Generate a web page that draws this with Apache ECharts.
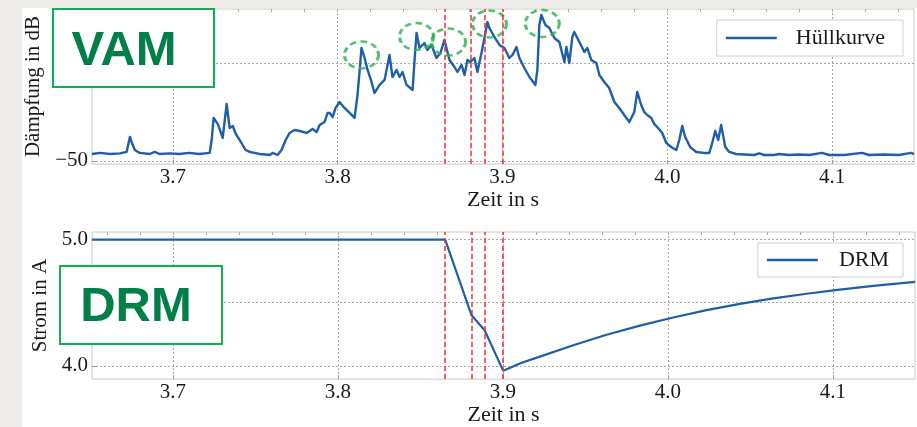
<!DOCTYPE html>
<html><head><meta charset="utf-8">
<script src="https://cdn.jsdelivr.net/npm/echarts@6/dist/echarts.min.js"></script>
<style>
html,body{margin:0;padding:0;background:#edece8;width:917px;height:427px;overflow:hidden;}
#bg{position:absolute;left:22px;top:8px;width:895px;height:419px;background:#fff;}
#chart{position:absolute;left:0;top:0;width:917px;height:427px;}
</style></head><body>
<div id="bg"></div><div id="chart"></div>
<script>
// ---- data ----
const vamTime = [3.651,3.656,3.662,3.668,3.672,3.674,3.675,3.677,3.680,3.686,3.689,3.692,3.698,3.704,3.710,3.716,3.7224,3.7236,3.7248,3.7273,3.7303,3.7327,3.7345,3.7364,3.7382,3.7406,3.7424,3.7442,3.7467,3.7497,3.7527,3.7564,3.7588,3.7606,3.7636,3.766,3.7685,3.7709,3.7739,3.777,3.7812,3.7848,3.7873,3.7891,3.7921,3.7939,3.7952,3.797,3.7988,3.8012,3.8042,3.8073,3.8103,3.8121,3.8145,3.8164,3.8182,3.8206,3.8224,3.8255,3.8285,3.8297,3.8315,3.8333,3.8358,3.8376,3.8394,3.8418,3.8455,3.8467,3.8479,3.8497,3.8527,3.8545,3.857,3.86,3.8624,3.8648,3.8679,3.8709,3.8727,3.8752,3.877,3.8788,3.8806,3.883,3.8848,3.8873,3.8891,3.8909,3.8921,3.8952,3.8982,3.9012,3.9042,3.9061,3.9085,3.9103,3.9133,3.9164,3.92,3.9212,3.9224,3.9236,3.9261,3.9285,3.9297,3.9315,3.9345,3.9376,3.9388,3.9406,3.9424,3.9436,3.9467,3.9497,3.9515,3.9539,3.957,3.9588,3.9618,3.9648,3.9679,3.9709,3.9739,3.977,3.98,3.9818,3.9842,3.986,3.9879,3.9903,3.9921,3.9939,3.997,3.9994,4.0024,4.0055,4.0073,4.0091,4.0109,4.0121,4.0139,4.0176,4.0224,4.0255,4.0273,4.0291,4.0309,4.0327,4.0352,4.0376,4.0418,4.0467,4.0527,4.0558,4.0588,4.0648,4.0679,4.0739,4.08,4.0861,4.0939,4.0982,4.1073,4.1182,4.1224,4.1315,4.1406,4.1479,4.1497];
const vamDb = [-49.29,-49.18,-49.29,-49.23,-49.08,-47.55,-48.06,-48.88,-49.18,-49.29,-49.08,-49.29,-49.23,-49.29,-49.18,-49.29,-49.18,-47.86,-45.61,-46.22,-47.65,-44.18,-46.63,-46.43,-47.24,-47.86,-48.37,-48.88,-49.08,-49.18,-49.29,-49.34,-49.39,-49.18,-49.39,-48.88,-47.86,-47.14,-46.84,-46.94,-47.14,-46.73,-47.04,-46.33,-46.02,-45.10,-45.10,-45.51,-44.59,-43.98,-44.59,-45.10,-45.61,-43.27,-38.47,-39.49,-40.71,-41.94,-43.06,-42.24,-41.73,-40.71,-39.18,-41.43,-40.71,-41.43,-40.92,-42.24,-42.76,-39.69,-36.94,-38.47,-37.96,-38.67,-38.16,-39.49,-38.98,-37.65,-39.69,-40.41,-40.92,-40.20,-41.22,-39.69,-39.90,-39.49,-40.92,-38.98,-37.45,-35.82,-36.43,-37.35,-38.16,-38.47,-39.49,-39.18,-38.37,-39.49,-40.51,-41.43,-42.24,-40.71,-36.12,-35.10,-36.12,-36.43,-36.84,-37.45,-37.86,-39.90,-38.37,-40.00,-37.35,-36.84,-37.86,-38.88,-38.47,-39.69,-40.00,-41.22,-41.94,-42.55,-43.98,-44.59,-45.31,-46.02,-45.00,-42.96,-44.29,-45.00,-45.31,-45.61,-46.22,-46.53,-47.14,-48.16,-48.57,-48.88,-47.86,-46.43,-47.55,-47.35,-48.57,-49.08,-49.18,-49.18,-48.16,-46.94,-47.86,-46.33,-48.57,-49.08,-49.29,-49.34,-49.39,-49.23,-49.39,-49.39,-49.29,-49.39,-49.34,-49.39,-49.18,-49.39,-49.39,-49.18,-49.39,-49.34,-49.39,-49.18,-49.29];
const drmTime = [3.651,3.865,3.881,3.889,3.9002,3.911,3.9224,3.9426,3.9628,3.9830,4.0032,4.0234,4.0436,4.0638,4.0840,4.1042,4.1244,4.1497];
const drmAmp  = [5.00,5.00,4.40,4.28,3.960,4.022,4.073,4.163,4.246,4.318,4.383,4.441,4.491,4.534,4.571,4.604,4.634,4.665];
const eventTimes = [3.865, 3.881, 3.889, 3.900];
const peakTime = [3.8145, 3.8479, 3.8673, 3.8921, 3.9242];
const peakDb   = [-39.18, -37.30, -37.86, -36.02, -35.97];
const xTickValues = [3.7, 3.8, 3.9, 4.0, 4.1];
const xMinorTicks = [3.66,3.68,3.70,3.72,3.74,3.76,3.78,3.80,3.82,3.84,3.86,3.88,3.90,3.92,3.94,3.96,3.98,4.00,4.02,4.04,4.06,4.08,4.10,4.12,4.14];
const vamYTicks = [-50, -40];
const drmYTicks = [4.0, 4.5, 5.0];

// ---- chart ----
const BLUE = '#1f5ea8';
const RED = '#ff2a2a';
const GREEN = '#2cb24b';
const SERIF = 'Liberation Serif';
const chart = echarts.init(document.getElementById('chart'), null, {renderer:'canvas'});

function mainX(gridIndex, nameGap){
  return {
    type:'value', gridIndex, min:3.651, max:4.1497, position:'bottom',
    axisLine:{show:false},
    axisTick:{show:true, inside:true, length:4, customValues:xTickValues, lineStyle:{color:'#999'}},
    axisLabel:{customValues:xTickValues, formatter:v=>v.toFixed(1), fontFamily:SERIF, fontSize:21, color:'#1a1a1a', margin:3},
    splitLine:{show:true, lineStyle:{color:'#a8a8a8', type:[2,2], width:1}},
    name:'Zeit in s', nameLocation:'middle', nameGap:nameGap,
    nameTextStyle:{fontFamily:SERIF, fontSize:22, color:'#1a1a1a'}
  };
}
function minorX(gridIndex){
  return {
    type:'value', gridIndex, min:3.651, max:4.1497, position:'top',
    axisLine:{show:false},
    axisTick:{show:true, inside:true, length:3, customValues:xMinorTicks, lineStyle:{color:'#aaa'}},
    axisLabel:{show:false}, splitLine:{show:false}
  };
}
function eventLines(){
  return {silent:true, precision:4, symbol:['none','none'], label:{show:false},
    lineStyle:{color:RED, type:[5,3], width:1.5}, data:eventTimes.map(t=>({xAxis:t}))};
}

const option = {
  animation:false,
  backgroundColor:'transparent',
  grid:[
    {left:92, top:9, width:822, height:155, show:true, borderColor:'#c8c8c8', borderWidth:1},
    {left:92, top:232, width:823, height:155, show:true, borderColor:'#c8c8c8', borderWidth:1}
  ],
  xAxis:[ mainX(0, 20), minorX(0), mainX(1, 16), minorX(1) ],
  yAxis:[
    {type:'value', gridIndex:0, min:-50.31, max:-34.49,
     axisLine:{show:false},
     axisTick:{show:true, inside:true, length:4, customValues:vamYTicks, lineStyle:{color:'#999'}},
     axisLabel:{customValues:vamYTicks, formatter:v=>String(v).replace('-', '\u2212'), fontFamily:SERIF, fontSize:21, color:'#1a1a1a', margin:4},
     splitLine:{show:true, lineStyle:{color:'#a8a8a8', type:[2,2], width:1}},
     name:'Dämpfung in dB', nameLocation:'middle', nameGap:48,
     nameTextStyle:{fontFamily:SERIF, fontSize:21, color:'#1a1a1a'}},
    {type:'value', gridIndex:1, min:3.8947, max:5.0601,
     axisLine:{show:false},
     axisTick:{show:true, inside:true, length:4, customValues:drmYTicks, lineStyle:{color:'#999'}},
     axisLabel:{customValues:drmYTicks, formatter:v=>v.toFixed(1), fontFamily:SERIF, fontSize:21, color:'#1a1a1a', margin:4},
     splitLine:{show:true, lineStyle:{color:'#a8a8a8', type:[2,2], width:1}},
     name:'Strom in A', nameLocation:'middle', nameGap:37,
     nameTextStyle:{fontFamily:SERIF, fontSize:21, color:'#1a1a1a'}}
  ],
  legend:[
    {data:['Hüllkurve'], right:14, top:20, padding:[7,18,7,9], borderColor:'#d0d0d0', borderWidth:1, borderRadius:0,
     backgroundColor:'#fff', icon:'rect', itemWidth:51, itemHeight:2.5,
     textStyle:{fontFamily:SERIF, fontSize:22, color:'#1a1a1a', padding:[0,0,0,14]}},
    {data:['DRM'], right:14, top:243, padding:[6,14,6,9], borderColor:'#d0d0d0', borderWidth:1, borderRadius:0,
     backgroundColor:'#fff', icon:'rect', itemWidth:51, itemHeight:2.5,
     textStyle:{fontFamily:SERIF, fontSize:22, color:'#1a1a1a', padding:[0,0,0,16]}}
  ],
  series:[
    {name:'Hüllkurve', type:'line', xAxisIndex:0, yAxisIndex:0,
     data:vamTime.map((t,i)=>[t, vamDb[i]]), symbol:'none', showSymbol:false,
     itemStyle:{color:BLUE}, lineStyle:{color:BLUE, width:2.4, join:'round'}, z:3,
     markLine:eventLines()},
    {name:'peaks', type:'scatter', xAxisIndex:0, yAxisIndex:0, silent:true,
     data:peakTime.map((t,i)=>[t, peakDb[i]]), symbol:'circle', symbolSize:[34,27],
     itemStyle:{color:'rgba(0,0,0,0)', borderColor:GREEN, borderWidth:2.8, borderType:[6,4]}, z:4},
    {name:'DRM', type:'line', xAxisIndex:2, yAxisIndex:1,
     data:drmTime.map((t,i)=>[t, drmAmp[i]]), symbol:'none', showSymbol:false,
     itemStyle:{color:BLUE}, lineStyle:{color:BLUE, width:2.2}, z:3,
     markLine:eventLines()}
  ],
  graphic:[
    {type:'rect', z:100, shape:{x:53, y:9, width:161, height:78}, style:{fill:'#fff', stroke:'#10b050', lineWidth:2}},
    {type:'text', z:101, x:124, y:51, style:{text:'VAM', fill:'#007f48', font:'bold 49px "Liberation Sans", Arial, sans-serif', align:'center', verticalAlign:'middle'}},
    {type:'rect', z:100, shape:{x:60, y:266, width:162, height:78}, style:{fill:'#fff', stroke:'#10b050', lineWidth:2}},
    {type:'text', z:101, x:136, y:307, style:{text:'DRM', fill:'#007f48', font:'bold 49px "Liberation Sans", Arial, sans-serif', align:'center', verticalAlign:'middle'}}
  ]
};
chart.setOption(option);
</script>
</body></html>
